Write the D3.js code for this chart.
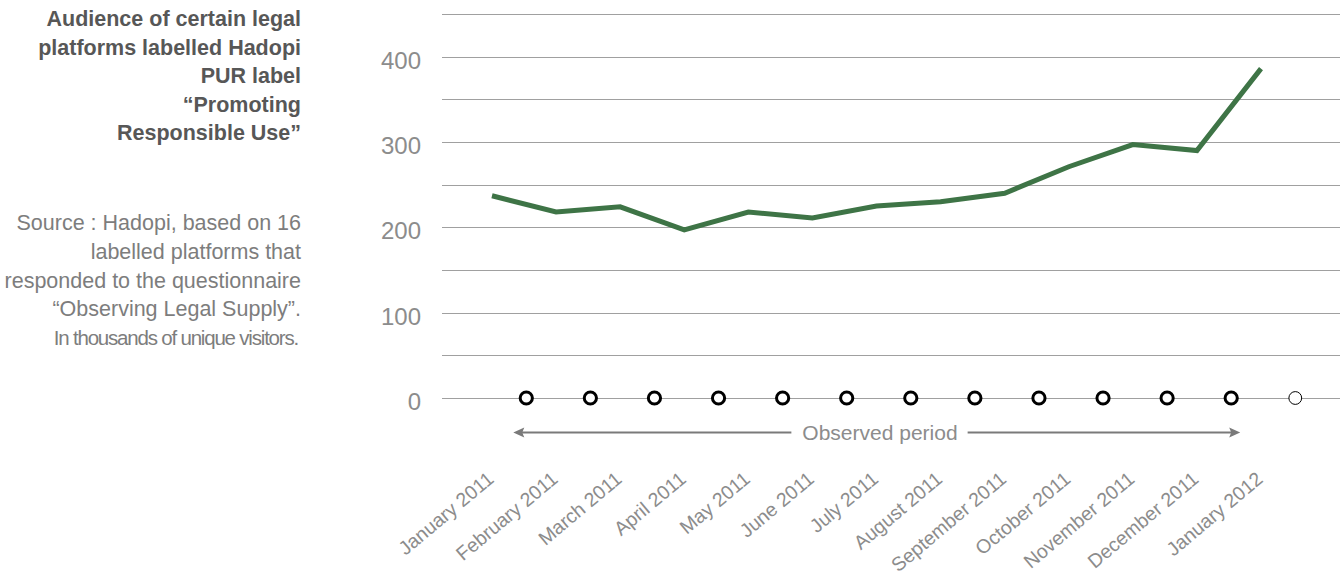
<!DOCTYPE html>
<html>
<head>
<meta charset="utf-8">
<script src="https://cdn.jsdelivr.net/npm/d3@7"></script>
<style>
  html, body { margin: 0; padding: 0; background: #fff; }
  svg { display: block; font-family: "Liberation Sans", Arial, Helvetica, sans-serif; }
</style>
</head>
<body>
<svg id="chart" width="1340" height="575"></svg>
<script>
// ---- Data ----
const months = ["January 2011", "February 2011", "March 2011", "April 2011", "May 2011", "June 2011",
  "July 2011", "August 2011", "September 2011", "October 2011", "November 2011", "December 2011", "January 2012"];
const audience = [237, 218, 224, 197, 218, 211, 225, 230, 240, 271, 297, 290, 386];
const yTickLabels = [0, 100, 200, 300, 400];
const gridValues = [0, 50, 100, 150, 200, 250, 300, 350, 400, 450];
const titleLines = ["Audience of certain legal", "platforms labelled Hadopi", "PUR label", "\u201cPromoting", "Responsible Use\u201d"];
const noteLines = ["Source : Hadopi, based on 16", "labelled platforms that", "responded to the questionnaire", "\u201cObserving Legal Supply\u201d."];
const unitLine = "In thousands of unique visitors.";
const observedLabel = "Observed period";
const observedCount = 12; // observed months (bold markers)

// ---- Layout ----
const svg = d3.select("#chart");
const gridLeft = 442, gridRight = 1340;
const x = d3.scalePoint().domain(months).range([492, 1261]);
const y = d3.scaleLinear().domain([0, 450]).range([398, 14]);
const markerOffset = x.step() * 0.535;

// Gridlines
svg.append("g").selectAll("line").data(gridValues).join("line")
  .attr("x1", gridLeft).attr("x2", gridRight)
  .attr("y1", d => Math.round(y(d)) + 0.5).attr("y2", d => Math.round(y(d)) + 0.5)
  .attr("stroke", "#a0a0a0").attr("stroke-width", 1);

// Y tick labels
svg.append("g").selectAll("text").data(yTickLabels).join("text")
  .attr("x", 421).attr("y", d => y(d) + 12)
  .attr("text-anchor", "end")
  .attr("font-size", 24).attr("fill", "#8c8c8c")
  .text(d => d);

// Line
const line = d3.line().x((d, i) => x(months[i])).y(d => y(d));
svg.append("path").datum(audience)
  .attr("d", line)
  .attr("fill", "none").attr("stroke", "#3e7446").attr("stroke-width", 5)
  .attr("stroke-linejoin", "miter").attr("stroke-linecap", "butt");

// Markers on zero line
svg.append("g").selectAll("circle").data(months).join("circle")
  .attr("cx", d => x(d) + markerOffset).attr("cy", y(0))
  .attr("r", d => months.indexOf(d) < observedCount ? 6.1 : 6.4)
  .attr("fill", "#fff").attr("stroke", "#000")
  .attr("stroke-width", d => months.indexOf(d) < observedCount ? 3 : 1);

// Observed period arrow
const arrowY = 432.5;
const leftTip = x(months[0]) + markerOffset - 13;
const rightTip = x(months[observedCount - 1]) + markerOffset + 9;
const label = svg.append("text")
  .attr("x", 880).attr("y", 440)
  .attr("text-anchor", "middle").attr("font-size", 21).attr("fill", "#8c8c8c")
  .text(observedLabel);
const bb = label.node().getBBox();
const arrowColor = "#7a7a7a";
svg.append("line").attr("x1", leftTip + 8).attr("x2", bb.x - 11)
  .attr("y1", arrowY).attr("y2", arrowY).attr("stroke", arrowColor).attr("stroke-width", 2);
svg.append("line").attr("x1", bb.x + bb.width + 10).attr("x2", rightTip - 8)
  .attr("y1", arrowY).attr("y2", arrowY).attr("stroke", arrowColor).attr("stroke-width", 2);
svg.append("path")
  .attr("d", `M${leftTip},${arrowY} L${leftTip + 11},${arrowY - 5} L${leftTip + 9},${arrowY} L${leftTip + 11},${arrowY + 5} Z`)
  .attr("fill", arrowColor);
svg.append("path")
  .attr("d", `M${rightTip},${arrowY} L${rightTip - 11},${arrowY - 5} L${rightTip - 9},${arrowY} L${rightTip - 11},${arrowY + 5} Z`)
  .attr("fill", arrowColor);

// Month labels
svg.append("g").selectAll("text").data(months).join("text")
  .attr("transform", d => `translate(${x(d) + 3},${481}) rotate(-40)`)
  .attr("text-anchor", "end").attr("font-size", 19.5).attr("fill", "#8c8c8c")
  .text(d => d);

// Title
svg.append("g").selectAll("text").data(titleLines).join("text")
  .attr("x", 301).attr("y", (d, i) => 26 + i * 28.5)
  .attr("text-anchor", "end").attr("font-size", 21.5).attr("font-weight", "bold").attr("fill", "#575757")
  .text(d => d);

// Notes
svg.append("g").selectAll("text").data(noteLines).join("text")
  .attr("x", 301).attr("y", (d, i) => 230 + i * 28.8)
  .attr("text-anchor", "end").attr("font-size", 21.5).attr("fill", "#7d7d7d")
  .text(d => d);
svg.append("text")
  .attr("x", 298).attr("y", 345)
  .attr("text-anchor", "end").attr("font-size", 20.5).attr("fill", "#7d7d7d")
  .attr("letter-spacing", "-1.2px")
  .text(unitLine);
</script>
</body>
</html>
